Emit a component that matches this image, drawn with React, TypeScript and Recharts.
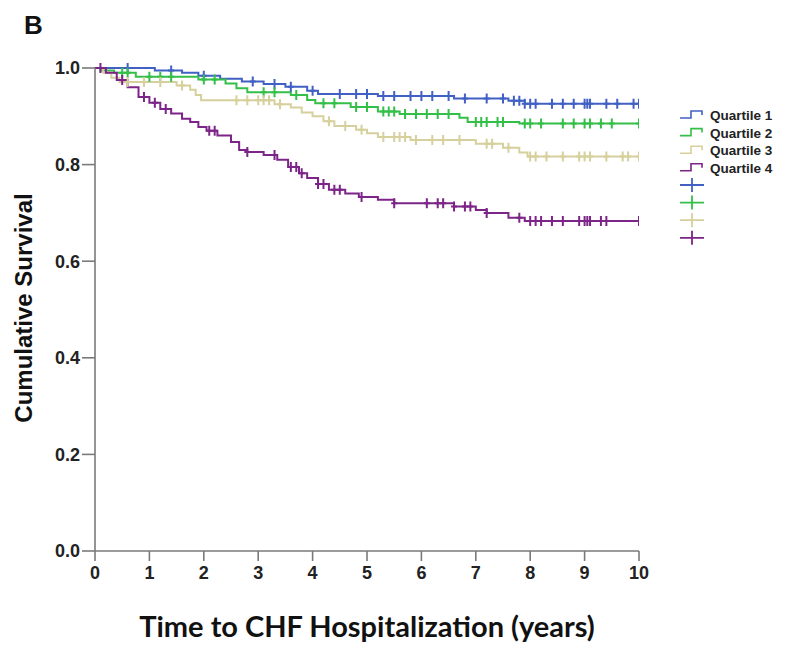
import { LineChart, Line, XAxis, YAxis, Label } from 'recharts';

const X_TICKS = [0, 1, 2, 3, 4, 5, 6, 7, 8, 9, 10];
const Y_TICKS = [0, 0.2, 0.4, 0.6, 0.8, 1.0];

// Kaplan-Meier steps: [time in years, survival after the drop]
const q1Steps = [
  [1.1, 0.995], [1.6, 0.99], [1.9, 0.984], [2.3, 0.978], [2.7, 0.972], [3.1, 0.967],
  [3.5, 0.961], [3.9, 0.953], [4.1, 0.946], [5.2, 0.942], [6.6, 0.937], [7.6, 0.932], [7.9, 0.926],
];
const q1Censored = [
  0.6, 1.4, 2.0, 2.9, 3.3, 3.6, 4.0, 4.5, 4.8, 5.0, 5.3, 5.5, 5.8, 6.0, 6.2, 6.5, 6.8, 7.2,
  7.5, 7.7, 7.8, 7.9, 8.0, 8.1, 8.4, 8.6, 8.8, 9.0, 9.05, 9.1, 9.4, 9.6, 9.9, 10,
];

const q2Steps = [
  [0.1, 0.995], [0.35, 0.99], [0.75, 0.982], [1.9, 0.976], [2.4, 0.968], [2.6, 0.958],
  [2.8, 0.95], [3.6, 0.944], [3.9, 0.934], [4.05, 0.927], [4.7, 0.919], [5.2, 0.91],
  [5.6, 0.905], [6.7, 0.897], [6.85, 0.888], [7.8, 0.885],
];
const q2Censored = [
  0.5, 0.6, 1.0, 1.2, 1.4, 2.0, 2.2, 3.1, 3.3, 3.7, 4.2, 4.4, 4.8, 5.0, 5.3, 5.4, 5.5, 5.7,
  5.9, 6.1, 6.3, 6.5, 7.0, 7.1, 7.2, 7.4, 7.5, 7.9, 8.0, 8.2, 8.6, 8.8, 9.0, 9.1, 9.3, 9.5, 10,
];

const q3Steps = [
  [0.15, 0.99], [0.3, 0.98], [0.45, 0.971], [1.5, 0.964], [1.75, 0.955], [1.85, 0.944],
  [1.95, 0.933], [3.3, 0.925], [3.6, 0.918], [3.8, 0.908], [4.0, 0.9], [4.2, 0.89],
  [4.4, 0.88], [4.8, 0.872], [5.0, 0.865], [5.2, 0.857], [5.8, 0.851], [7.0, 0.843],
  [7.5, 0.835], [7.8, 0.825], [7.95, 0.817],
];
const q3Censored = [
  0.6, 0.9, 1.2, 1.6, 2.6, 2.8, 3.0, 3.1, 3.2, 3.4, 4.3, 4.6, 4.9, 5.3, 5.5, 5.6, 5.7, 5.9,
  6.2, 6.4, 6.7, 7.2, 7.3, 7.6, 8.0, 8.1, 8.3, 8.6, 8.9, 9.0, 9.1, 9.4, 9.7, 9.8, 10,
];

const q4Steps = [
  [0.2, 0.99], [0.4, 0.975], [0.6, 0.96], [0.8, 0.94], [1.0, 0.928], [1.2, 0.915],
  [1.4, 0.906], [1.6, 0.895], [1.75, 0.888], [1.9, 0.878], [2.05, 0.87], [2.25, 0.86],
  [2.5, 0.847], [2.65, 0.83], [2.8, 0.826], [3.1, 0.82], [3.35, 0.81], [3.55, 0.795],
  [3.75, 0.782], [3.9, 0.772], [4.1, 0.76], [4.3, 0.748], [4.6, 0.74], [4.85, 0.733],
  [5.2, 0.727], [5.5, 0.72], [6.6, 0.713], [7.0, 0.706], [7.2, 0.7], [7.6, 0.69], [7.9, 0.683],
];
const q4Censored = [
  0.1, 0.5, 0.9, 1.1, 1.3, 2.1, 2.2, 2.8, 3.3, 3.6, 3.7, 3.8, 4.1, 4.2, 4.4, 4.5, 4.9, 5.5,
  6.1, 6.3, 6.4, 6.6, 6.8, 6.9, 7.2, 7.8, 8.0, 8.1, 8.2, 8.4, 8.6, 8.9, 9.0, 9.05, 9.1, 9.3, 9.4, 10,
];

const SERIES_NAMES = ['Quartile 1', 'Quartile 2', 'Quartile 3', 'Quartile 4'];
const COLORS = ['#4160c4', '#34bf48', '#d6d09c', '#7c2487'];

type Pt = { t: number; s: number; c?: boolean };

function buildSeries(steps: number[][], censored: number[]): Pt[] {
  const pts: Pt[] = [{ t: 0, s: 1 }];
  steps.forEach(([t, s]) => pts.push({ t, s }));
  censored.forEach((t) => {
    let s = 1;
    steps.forEach(([st, sv]) => {
      if (st <= t) s = sv;
    });
    pts.push({ t, s, c: true });
  });
  pts.sort((a, b) => a.t - b.t || (a.c ? 1 : 0) - (b.c ? 1 : 0));
  return pts;
}

const seriesData = [
  buildSeries(q1Steps, q1Censored),
  buildSeries(q2Steps, q2Censored),
  buildSeries(q3Steps, q3Censored),
  buildSeries(q4Steps, q4Censored),
];

const FONT = 'Liberation Sans, Arial';
const axisTick = { fontSize: 18, fontWeight: 700, fill: '#222', fontFamily: FONT };

function censorDot(color: string) {
  return (props: any) => {
    const { cx, cy, payload, index } = props;
    if (!payload?.c || cx == null || cy == null) return <g key={`d${index}`} />;
    return (
      <path
        key={`d${index}`}
        d={`M${cx},${cy - 5}V${cy + 5}M${cx - 3},${cy}H${cx + 3}`}
        stroke={color}
        strokeWidth={2}
        fill="none"
      />
    );
  };
}

function LegendBox() {
  return (
    <svg width={110} height={140} style={{ position: 'absolute', left: 678, top: 106 }}>
      {SERIES_NAMES.map((name, i) => {
        const y = 9 + i * 17.6;
        return (
          <g key={name}>
            <path
              d={`M2,${y + 3}H13V${y - 4}H24V${y}`}
              stroke={COLORS[i]}
              strokeWidth={1.6}
              fill="none"
            />
            <text x={32} y={y + 5} fontSize={13.5} fontWeight={700} fill="#222" fontFamily={FONT}>
              {name}
            </text>
          </g>
        );
      })}
      {COLORS.map((c, i) => {
        const y = 79 + i * 17.6;
        return (
          <path
            key={c}
            d={`M2,${y}H26M14,${y - 7}V${y + 7}`}
            stroke={c}
            strokeWidth={1.8}
            fill="none"
          />
        );
      })}
    </svg>
  );
}

export default function App() {
  return (
    <div style={{ position: 'absolute', left: 0, top: 0, width: 788, height: 646, background: '#fff' }}>
      <svg width={60} height={50} style={{ position: 'absolute', left: 0, top: 0 }}>
        <text x={24} y={34} fontFamily={FONT} fontWeight={700} fontSize={26} fill="#111">
          B
        </text>
      </svg>
      <LineChart width={788} height={646} margin={{ top: 68, right: 149, bottom: 55, left: 40 }}>
        <XAxis
          dataKey="t"
          type="number"
          domain={[0, 10]}
          ticks={X_TICKS}
          allowDataOverflow
          stroke="#7a7a7a"
          strokeWidth={1.6}
          tickSize={10}
          tickMargin={5}
          height={40}
          tick={axisTick}
        >
          <Label
            content={() => (
              <text
                x={367}
                y={637}
                textAnchor="middle"
                fontSize={29}
                fontWeight={700}
                fill="#111"
                fontFamily="Lato, Open Sans"
              >
                Time to CHF Hospitalization (years)
              </text>
            )}
          />
        </XAxis>
        <YAxis
          type="number"
          domain={[0, 1]}
          ticks={Y_TICKS}
          tickFormatter={(v: number) => v.toFixed(1)}
          stroke="#7a7a7a"
          strokeWidth={1.6}
          tickSize={13}
          tickMargin={2}
          width={55}
          tick={axisTick}
        >
          <Label
            content={() => (
              <text
                x={32}
                y={308}
                transform="rotate(-90 32 308)"
                textAnchor="middle"
                fontSize={24}
                fontWeight={700}
                fill="#111"
                fontFamily={FONT}
              >
                Cumulative Survival
              </text>
            )}
          />
        </YAxis>
        {seriesData.map((data, i) => (
          <Line
            key={SERIES_NAMES[i]}
            data={data}
            dataKey="s"
            name={SERIES_NAMES[i]}
            type="stepAfter"
            stroke={COLORS[i]}
            strokeWidth={2}
            dot={censorDot(COLORS[i])}
            activeDot={false}
            isAnimationActive={false}
          />
        ))}
      </LineChart>
      <LegendBox />
    </div>
  );
}
